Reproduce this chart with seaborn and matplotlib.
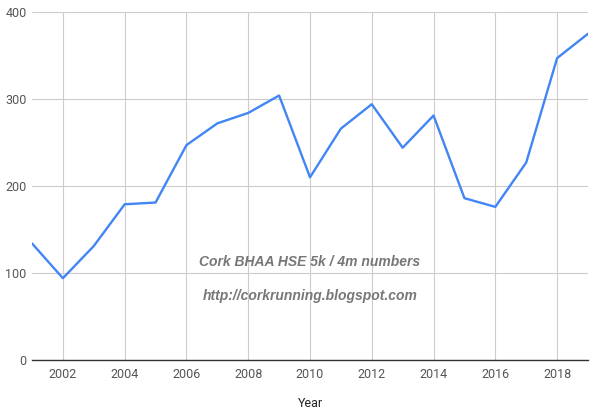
import numpy as np
import pandas as pd
import matplotlib
matplotlib.use("Agg")
import matplotlib.pyplot as plt
import seaborn as sns

years = list(range(2001, 2020))
numbers = [134, 94, 131, 179, 181, 247, 272, 284, 304, 210,
           266, 294, 244, 281, 186, 176, 227, 347, 375]
year_ticks = list(range(2002, 2019, 2))
y_ticks = [0, 100, 200, 300, 400]

df = pd.DataFrame({"Year": years, "Numbers": numbers})

sns.set_style("white")
plt.rcParams['font.family'] = ['Roboto', 'DejaVu Sans']

fig = plt.figure(figsize=(5.96, 4.2), dpi=100)
ax = fig.add_axes([32 / 596, 1 - 360 / 420, 556 / 596, 348 / 420])

sns.lineplot(data=df, x="Year", y="Numbers", ax=ax, color="#4285F4", linewidth=1.7)

ax.set_xlim(2001, 2019)
ax.set_ylim(0, 400)
ax.set_xticks(year_ticks)
ax.set_yticks(y_ticks)
ax.grid(True, color="#cccccc", linewidth=0.8)
ax.set_axisbelow(True)
for s in ["left", "right", "top"]:
    ax.spines[s].set_visible(False)
ax.spines["bottom"].set_color("#333333")
ax.spines["bottom"].set_linewidth(1.0)
ax.tick_params(axis="both", length=0, labelsize=9, labelcolor="#555555")
ax.tick_params(axis="x", pad=6)
ax.tick_params(axis="y", pad=4)
ax.set_xlabel("Year", fontsize=9, color="#222222")
ax.xaxis.set_label_coords(0.5, -0.105)
ax.set_ylabel("")

ax.text(0.5, 0.283, "Cork BHAA HSE 5k / 4m numbers", transform=ax.transAxes,
        ha="center", va="center", fontsize=10, color="#777777",
        fontweight="bold", fontstyle="italic", family="Liberation Sans")
ax.text(0.5, 0.185, "http://corkrunning.blogspot.com", transform=ax.transAxes,
        ha="center", va="center", fontsize=10, color="#777777",
        fontweight="bold", fontstyle="italic", family="Liberation Sans")

fig.savefig("out.png", dpi=100)
